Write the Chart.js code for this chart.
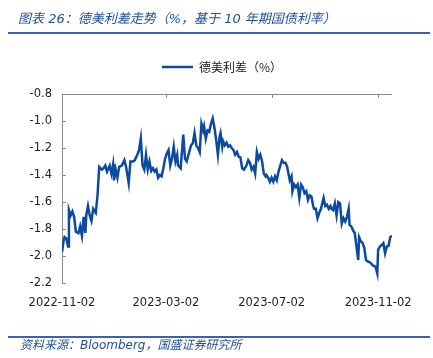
<!DOCTYPE html>
<html>
<head>
<meta charset="utf-8">
<script src="https://cdn.jsdelivr.net/npm/chart.js@4.4.1/dist/chart.umd.min.js"></script>
<style>
  html, body { margin: 0; padding: 0; background: #fff; }
  #wrap { position: relative; width: 433px; height: 358px; overflow: hidden; }
  #c { position: absolute; left: 0; top: 0; }
  .title { position: absolute; left: 18px; top: 10px; font: italic 13px "DejaVu Sans", "Noto Sans CJK SC", sans-serif; color: #1F4E9C; white-space: nowrap; line-height: 18px; }
  .rule { position: absolute; left: 8px; width: 422px; height: 2px; background: #3A62B0; }
  .foot { position: absolute; left: 20px; top: 337px; font: italic 12px "DejaVu Sans", "Noto Sans CJK SC", sans-serif; color: #1F4E9C; white-space: nowrap; line-height: 16px; }
</style>
</head>
<body>
<div id="wrap">
  <canvas id="c" width="433" height="358"></canvas>
  <div class="title">图表 26：德美利差走势（%，基于 10 年期国债利率）</div>
  <div class="rule" style="top:32px"></div>
  <div class="rule" style="top:336px"></div>
  <div class="foot">资料来源：Bloomberg，国盛证券研究所</div>
</div>
<script>
// Day offsets from 2022-11-02
const startDate = '2022-11-02';
const days = [0,2,3,5,7,8,10,12,14,16,19,21,23,25,27,28,30,32,34,36,39,41,43,46,48,50,52,55,57,59,60,62,64,66,69,72,74,77,79,82,84,87,89,91,93,95,97,99,101,103,105,107,109,111,113,115,117,119,121,123,125,127,129,131,133,134,137,140,142,144,146,149,151,153,155,157,159,161,163,164,166,168,170,172,174,176,178,180,182,183,185,186,188,190,192,194,196,198,200,202,204,206,208,210,213,215,217,219,221,223,225,227,229,231,233,235,236,238,240,242,244,246,248,250,252,254,256,258,260,261,263,265,266,268,270,272,274,276,278,280,282,284,286,288,290,291,293,295,297,299,302,304,306,308,310,311,313,315,317,319,321,323,325,327,329,331,332,334,336,338,340,342,343,345,347,349,351,353,356,359,362,364,365,367,369,371,373,375,377,379,381];
const spread = [-1.97,-1.88,-1.86,-1.87,-1.93,-1.66,-1.70,-1.67,-1.71,-1.82,-1.83,-1.78,-1.85,-1.71,-1.83,-1.70,-1.63,-1.70,-1.74,-1.65,-1.68,-1.55,-1.34,-1.36,-1.35,-1.33,-1.375,-1.33,-1.39,-1.32,-1.44,-1.36,-1.42,-1.34,-1.33,-1.29,-1.34,-1.46,-1.30,-1.30,-1.29,-1.25,-1.215,-1.13,-1.33,-1.36,-1.25,-1.36,-1.30,-1.37,-1.35,-1.375,-1.36,-1.42,-1.40,-1.41,-1.35,-1.28,-1.24,-1.215,-1.33,-1.28,-1.19,-1.30,-1.25,-1.33,-1.35,-1.10,-1.28,-1.30,-1.25,-1.18,-1.165,-1.09,-1.18,-1.20,-1.23,-1.02,-1.07,-1.04,-1.13,-1.07,-1.08,-1.02,-0.98,-1.05,-1.14,-1.25,-1.115,-1.09,-1.19,-1.15,-1.18,-1.16,-1.19,-1.18,-1.20,-1.215,-1.25,-1.23,-1.265,-1.27,-1.35,-1.36,-1.33,-1.29,-1.31,-1.36,-1.34,-1.39,-1.23,-1.28,-1.25,-1.30,-1.39,-1.41,-1.40,-1.42,-1.45,-1.42,-1.45,-1.41,-1.44,-1.375,-1.33,-1.29,-1.31,-1.31,-1.34,-1.375,-1.44,-1.41,-1.52,-1.47,-1.49,-1.47,-1.57,-1.47,-1.49,-1.535,-1.52,-1.585,-1.55,-1.56,-1.63,-1.65,-1.65,-1.72,-1.68,-1.65,-1.57,-1.63,-1.62,-1.65,-1.63,-1.65,-1.66,-1.61,-1.70,-1.60,-1.61,-1.76,-1.72,-1.745,-1.71,-1.65,-1.77,-1.78,-1.81,-1.83,-1.93,-2.03,-1.86,-1.89,-1.905,-1.94,-2.03,-2.04,-2.05,-2.07,-2.08,-2.13,-1.955,-1.93,-1.92,-1.905,-1.98,-1.93,-1.925,-1.86,-1.85];
const xTickDays = [0, 120, 242, 365];
const xTickLabels = ['2022-11-02', '2023-03-02', '2023-07-02', '2023-11-02'];
const yMin = -2.2, yMax = -0.8, yStep = 0.2;
const seriesName = '德美利差（%）';

const frame = {
  id: 'frame',
  afterLayout(chart) {
    // centre the legend over the same spot as the reference
    if (chart.legend) { chart.legend.left += 26; chart.legend.right += 26; }
  },
  beforeDatasetsDraw(chart) {
    const {ctx, chartArea: a, scales: {x, y}} = chart;
    ctx.save();
    ctx.strokeStyle = '#8c8c8c';
    ctx.lineWidth = 1;
    ctx.beginPath();
    ctx.moveTo(a.left + 0.5, a.bottom);
    ctx.lineTo(a.left + 0.5, a.top);
    ctx.moveTo(a.left, a.top + 0.5);
    ctx.lineTo(a.right, a.top + 0.5);
    x.ticks.forEach(t => {
      const px = Math.round(x.getPixelForValue(t.value)) + 0.5;
      ctx.moveTo(px, a.top);
      ctx.lineTo(px, a.top + 4);
    });
    y.ticks.forEach(t => {
      const py = Math.round(y.getPixelForValue(t.value)) + 0.5;
      ctx.moveTo(a.left, py);
      ctx.lineTo(a.left + 4, py);
    });
    ctx.stroke();
    ctx.restore();
  }
};

new Chart(document.getElementById('c'), {
  type: 'line',
  data: {
    datasets: [{
      label: seriesName,
      data: days.map((d, i) => ({x: d, y: spread[i]})),
      xAxisID: 'x',
      yAxisID: 'y',
      borderColor: '#0B4A9E',
      backgroundColor: '#0B4A9E',
      borderWidth: 2.5,
      pointRadius: 0,
      tension: 0
    }]
  },
  options: {
    responsive: false,
    animation: false,
    devicePixelRatio: 1,
    layout: { padding: { top: 51, left: 0, right: 41, bottom: 0 } },
    plugins: {
      tooltip: { enabled: false },
      legend: {
        position: 'top',
        labels: {
          usePointStyle: true,
          pointStyle: 'line',
          pointStyleWidth: 31,
          padding: 10,
          color: '#222',
          font: { family: '"Noto Sans CJK SC", sans-serif', size: 12 }
        }
      }
    },
    scales: {
      x: {
        type: 'linear',
        position: 'bottom',
        min: 0,
        max: 381,
        grid: { display: false, drawTicks: false },
        border: { display: false },
        afterBuildTicks(s) { s.ticks = xTickDays.map(v => ({value: v})); },
        afterFit(s) { s.height = 75; },
        ticks: {
          padding: 13,
          maxRotation: 0,
          autoSkip: false,
          color: '#222',
          font: { family: '"DejaVu Sans", sans-serif', size: 11.5 },
          callback(v) { const i = xTickDays.indexOf(v); return i >= 0 ? xTickLabels[i] : ''; }
        }
      },
      gap: {
        type: 'linear',
        position: 'top',
        display: true,
        grid: { display: false, drawTicks: false },
        border: { display: false },
        ticks: { display: false },
        afterFit(s) { s.height = 11; }
      },
      y: {
        min: yMin,
        max: yMax,
        position: 'left',
        grid: { display: false, drawTicks: false },
        border: { display: false },
        afterFit(s) { s.width = 62; },
        ticks: {
          stepSize: yStep,
          padding: 10,
          color: '#222',
          font: { family: '"DejaVu Sans", sans-serif', size: 11.5 },
          callback(v) { return Number(v).toFixed(1); }
        }
      }
    }
  },
  plugins: [frame]
});
</script>
</body>
</html>
